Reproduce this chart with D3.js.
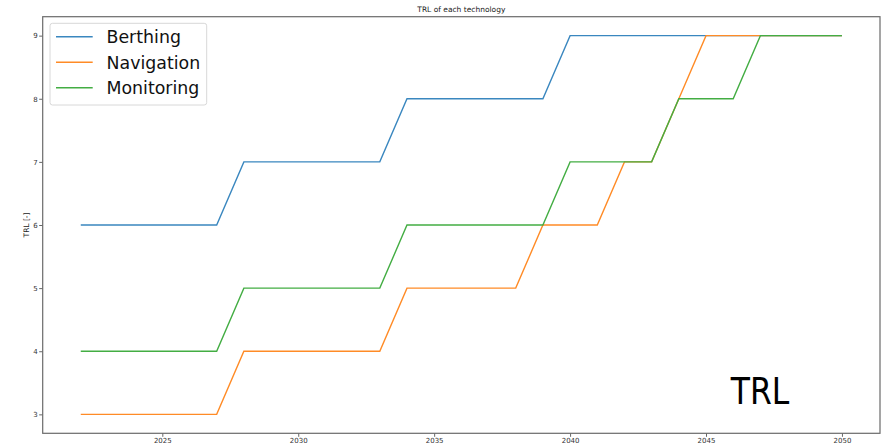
<!DOCTYPE html>
<html>
<head>
<meta charset="utf-8">
<script src="https://cdn.jsdelivr.net/npm/d3@7"></script>
<style>
  html, body { margin: 0; padding: 0; background: #fff; }
  svg { display: block; font-family: "DejaVu Sans", sans-serif; }
</style>
</head>
<body>
<svg id="chart" width="881" height="445"></svg>
<script>
const years = [2022,2023,2024,2025,2026,2027,2028,2029,2030,2031,2032,2033,2034,2035,2036,2037,2038,2039,2040,2041,2042,2043,2044,2045,2046,2047,2048,2049,2050];
const berthing   = [6,6,6,6,6,6,7,7,7,7,7,7,8,8,8,8,8,8,9,9,9,9,9,9,9,9,9,9,9];
const navigation = [3,3,3,3,3,3,4,4,4,4,4,4,5,5,5,5,5,6,6,6,7,7,8,9,9,9,9,9,9];
const monitoring = [4,4,4,4,4,4,5,5,5,5,5,5,6,6,6,6,6,6,7,7,7,7,8,8,8,9,9,9,9];
const seriesNames = ["Berthing", "Navigation", "Monitoring"];
const seriesColors = ["#3a87bf", "#ff8b26", "#43ad43"];
const xTicks = [2025, 2030, 2035, 2040, 2045, 2050];
const yTicks = [3, 4, 5, 6, 7, 8, 9];
const titleText = "TRL of each technology";
const yLabel = "TRL [-]";
const annotation = "TRL";

const svg = d3.select("#chart");
const L = 42.7, R = 880, T = 16.7, B = 433.3;

const x = d3.scaleLinear().domain([2020.6, 2051.4]).range([L, R]);
const y = d3.scaleLinear().domain([2.7, 9.3]).range([B, T]);

const seriesData = [berthing, navigation, monitoring];

const line = d3.line().x((d, i) => x(years[i])).y(d => y(d));

svg.selectAll("path.series")
  .data(seriesData)
  .join("path")
  .attr("class", "series")
  .attr("fill", "none")
  .attr("stroke", (d, i) => seriesColors[i])
  .attr("stroke-width", 1.4)
  .attr("d", line);

// axes
const xAxis = d3.axisBottom(x).tickValues(xTicks).tickSize(3.5).tickPadding(1.5).tickFormat(d3.format("d"));
const gx = svg.append("g").attr("transform", `translate(0,${B})`).call(xAxis);
gx.select(".domain").remove();
gx.selectAll("line").attr("stroke", "#666");
gx.selectAll("text").attr("font-size", 7).attr("fill", "#333").attr("font-family", "DejaVu Sans, sans-serif");

const yAxis = d3.axisLeft(y).tickValues(yTicks).tickSize(3.5).tickPadding(1.5).tickFormat(d3.format("d"));
const gy = svg.append("g").attr("transform", `translate(${L},0)`).call(yAxis);
gy.select(".domain").remove();
gy.selectAll("line").attr("stroke", "#666");
gy.selectAll("text").attr("font-size", 7).attr("fill", "#333").attr("font-family", "DejaVu Sans, sans-serif");

// frame
svg.append("rect")
  .attr("x", L).attr("y", T).attr("width", R - L).attr("height", B - T)
  .attr("fill", "none").attr("stroke", "#6a6a6a").attr("stroke-width", 1.2);

// title
svg.append("text")
  .attr("x", (L + R) / 2).attr("y", 11.5)
  .attr("text-anchor", "middle").attr("font-size", 7.5).attr("fill", "#222")
  .text(titleText);

// y label
svg.append("text")
  .attr("transform", `translate(28.5,${(T + B) / 2}) rotate(-90)`)
  .attr("text-anchor", "middle").attr("font-size", 7.5).attr("fill", "#222")
  .text(yLabel);

// annotation
svg.append("text")
  .attr("transform", "translate(760,404) scale(0.85,1)")
  .attr("text-anchor", "middle").attr("font-size", 37).attr("fill", "#000")
  .text(annotation);

// legend
const lg = svg.append("g");
lg.append("rect")
  .attr("x", 50).attr("y", 23.3).attr("width", 156.7).attr("height", 81.7)
  .attr("rx", 2.5).attr("fill", "#fff").attr("stroke", "#d8d8d8").attr("stroke-width", 1);
seriesNames.forEach((name, i) => {
  const cy = 36.7 + i * 25.5;
  lg.append("line")
    .attr("x1", 56).attr("x2", 92.7).attr("y1", cy).attr("y2", cy)
    .attr("stroke", seriesColors[i]).attr("stroke-width", 1.4);
  lg.append("text")
    .attr("transform", `translate(106.5,${cy + 6.6}) scale(0.95,1)`)
    .attr("font-size", 18.3).attr("fill", "#111")
    .text(name);
});
</script>
</body>
</html>
